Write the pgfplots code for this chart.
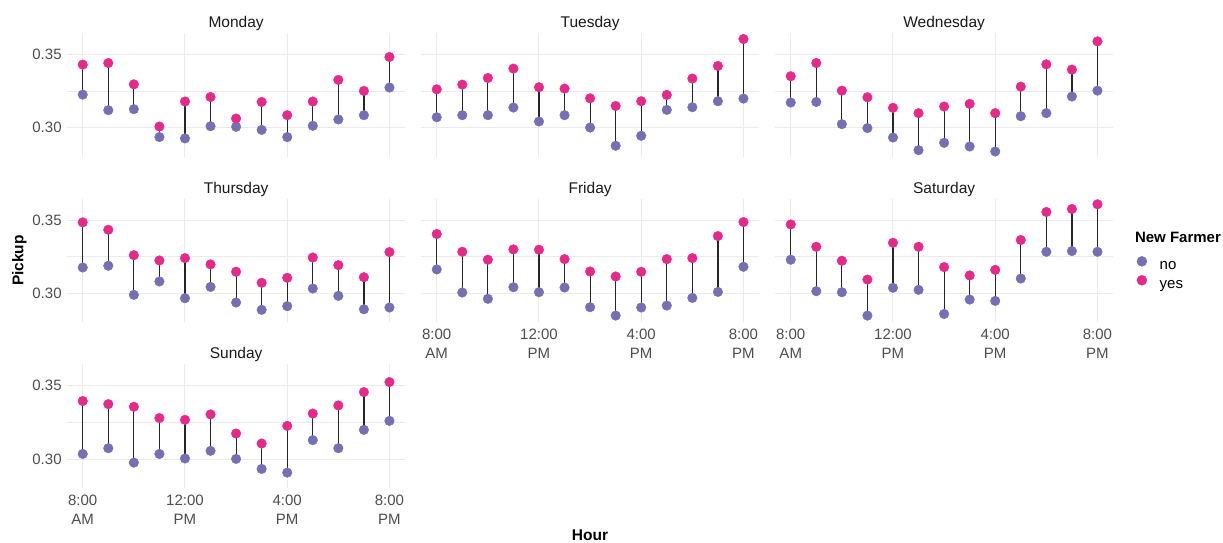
\documentclass[border=0pt]{standalone}
\usepackage{fontspec}
\setmainfont{Liberation Sans}
\usepackage{pgfplots}
\usepackage{pgfplotstable}
\pgfplotsset{compat=1.18}

\definecolor{noc}{HTML}{7570B3}
\definecolor{yesc}{HTML}{E7298A}
\definecolor{gridc}{HTML}{EBEBEB}
\definecolor{tickc}{HTML}{4D4D4D}
\definecolor{stripc}{HTML}{1A1A1A}

\pgfplotstableread{
h no yes
8 0.3226 0.3430
9 0.3120 0.3441
10 0.3127 0.3296
11 0.2937 0.3009
12 0.2928 0.3179
13 0.3011 0.3210
14 0.3007 0.3063
15 0.2986 0.3176
16 0.2937 0.3086
17 0.3014 0.3179
18 0.3057 0.3326
19 0.3086 0.3251
20 0.3274 0.3482
}\mon
\pgfplotstableread{
h no yes
8 0.3072 0.3262
9 0.3086 0.3294
10 0.3086 0.3339
11 0.3138 0.3403
12 0.3043 0.3276
13 0.3086 0.3267
14 0.3002 0.3201
15 0.2878 0.3149
16 0.2946 0.3181
17 0.3122 0.3224
18 0.3140 0.3335
19 0.3181 0.3421
20 0.3199 0.3604
}\tue
\pgfplotstableread{
h no yes
8 0.3172 0.3351
9 0.3176 0.3441
10 0.3025 0.3253
11 0.2998 0.3208
12 0.2934 0.3136
13 0.2848 0.3100
14 0.2898 0.3145
15 0.2873 0.3163
16 0.2839 0.3100
17 0.3079 0.3280
18 0.3100 0.3432
19 0.3213 0.3396
20 0.3253 0.3588
}\wed
\pgfplotstableread{
h no yes
8 0.3177 0.3484
9 0.3189 0.3434
10 0.2991 0.3261
11 0.3082 0.3225
12 0.2968 0.3241
13 0.3045 0.3198
14 0.2939 0.3148
15 0.2889 0.3073
16 0.2914 0.3107
17 0.3034 0.3245
18 0.2984 0.3193
19 0.2893 0.3111
20 0.2905 0.3282
}\thu
\pgfplotstableread{
h no yes
8 0.3164 0.3405
9 0.3007 0.3284
10 0.2964 0.3230
11 0.3043 0.3300
12 0.3009 0.3298
13 0.3041 0.3234
14 0.2907 0.3150
15 0.2850 0.3116
16 0.2905 0.3148
17 0.2918 0.3234
18 0.2970 0.3241
19 0.3011 0.3391
20 0.3182 0.3486
}\fri
\pgfplotstableread{
h no yes
8 0.3230 0.3470
9 0.3016 0.3318
10 0.3009 0.3223
11 0.2850 0.3095
12 0.3039 0.3345
13 0.3025 0.3318
14 0.2861 0.3180
15 0.2959 0.3123
16 0.2950 0.3161
17 0.3102 0.3364
18 0.3284 0.3555
19 0.3289 0.3575
20 0.3284 0.3607
}\sat
\pgfplotstableread{
h no yes
8 0.3036 0.3396
9 0.3075 0.3375
10 0.2977 0.3357
11 0.3036 0.3280
12 0.3005 0.3268
13 0.3057 0.3305
14 0.3002 0.3175
15 0.2934 0.3107
16 0.2909 0.3227
17 0.3130 0.3311
18 0.3075 0.3366
19 0.3200 0.3457
20 0.3261 0.3525
}\sun

\pgfplotsset{
  panel/.style={
    scale only axis, width=337.4pt, height=123.5pt,
    xmin=7.4, xmax=20.6, ymin=0.2805, ymax=0.3645,
    axis line style={draw=none},
    major tick length=0pt, minor tick length=0pt,
    xtick={8,12,16,20}, ytick={0.30,0.35}, minor ytick={0.325},
    grid=both,
    major grid style={gridc, line width=1pt},
    minor grid style={gridc, line width=0.9pt},
    xticklabels={}, yticklabels={},
    xticklabel style={align=center, inner sep=0pt, yshift=-6.7pt, text=tickc,
      font=\fontsize{15}{19}\selectfont},
    yticklabel style={inner sep=0pt, xshift=-5.6pt, text=tickc,
      font=\fontsize{15}{18}\selectfont},
    title style={at={(0.5,1)}, anchor=base, yshift=-0.5pt, text=stripc,
      font=\fontsize{15.5}{18}\selectfont},
    clip=false,
  },
  xlab/.style={xticklabels={{8:00\\AM},{12:00\\PM},{4:00\\PM},{8:00\\PM}}},
  ylab/.style={yticklabels={0.30,0.35}},
}

\newcommand\panelplots[1]{%
    \addplot[only marks, mark=none, forget plot,
      error bars/.cd, y dir=plus, y explicit, error mark=none,
      error bar style={black!85, line width=1.2pt}]
      table[x=h, y=no, y error expr=\thisrow{yes}-\thisrow{no}] {#1};
    \addplot[noc, only marks, mark=*, mark size=4.8pt, forget plot,
      mark options={noc, fill=noc, line width=0.4pt}] table[x=h, y=no] {#1};
    \addplot[yesc, only marks, mark=*, mark size=4.8pt, forget plot,
      mark options={yesc, fill=yesc, line width=0.4pt}] table[x=h, y=yes] {#1};
}
\newcommand\panel[3]{%
  \begin{axis}[panel, at={#1}, #3]
    \panelplots{#2}
  \end{axis}%
}

\begin{document}
\begin{tikzpicture}
\useasboundingbox (0,0) rectangle (1223pt,542pt);
\panel{(67.4pt,385.5pt)}{\mon}{title={Monday}, ylab}
\panel{(421.4pt,385.5pt)}{\tue}{title={Tuesday}}
\panel{(775.4pt,385.5pt)}{\wed}{title={Wednesday}}
\panel{(67.4pt,219.8pt)}{\thu}{title={Thursday}, ylab}
\panel{(421.4pt,219.8pt)}{\fri}{title={Friday}, xlab}
\begin{axis}[panel, at={(775.4pt,219.8pt)}, title={Saturday}, xlab,
    legend style={at={(axis description cs:1.0708,0.535)}, anchor=north west,
      draw=none, fill=none, inner sep=0pt, outer sep=0pt, row sep=0pt,
      column sep=12.6pt, font=\fontsize{15}{18}\selectfont,
      nodes={inner sep=0pt, outer sep=0pt, text height=10.5pt, text depth=6pt}},
    legend cell align=left]
    \panelplots{\sat}
    \addlegendimage{legend image code/.code={\fill[noc] (5pt,5.5pt) circle (5pt);}}
    \addlegendentry{no}
    \addlegendimage{legend image code/.code={\fill[yesc] (5pt,5.5pt) circle (5pt);}}
    \addlegendentry{yes}
\end{axis}
\panel{(67.4pt,54.1pt)}{\sun}{title={Sunday}, xlab, ylab}
\node[anchor=base west, font=\fontsize{15}{18}\selectfont\bfseries] at (1131.5pt,299.3pt) {New Farmer};
\node[anchor=base, rotate=90, font=\fontsize{15.5}{18}\selectfont\bfseries] at (23.4pt,281.5pt) {Pickup};
\node[anchor=base, font=\fontsize{15.5}{18}\selectfont\bfseries] at (590pt,2pt) {Hour};
\end{tikzpicture}
\end{document}
